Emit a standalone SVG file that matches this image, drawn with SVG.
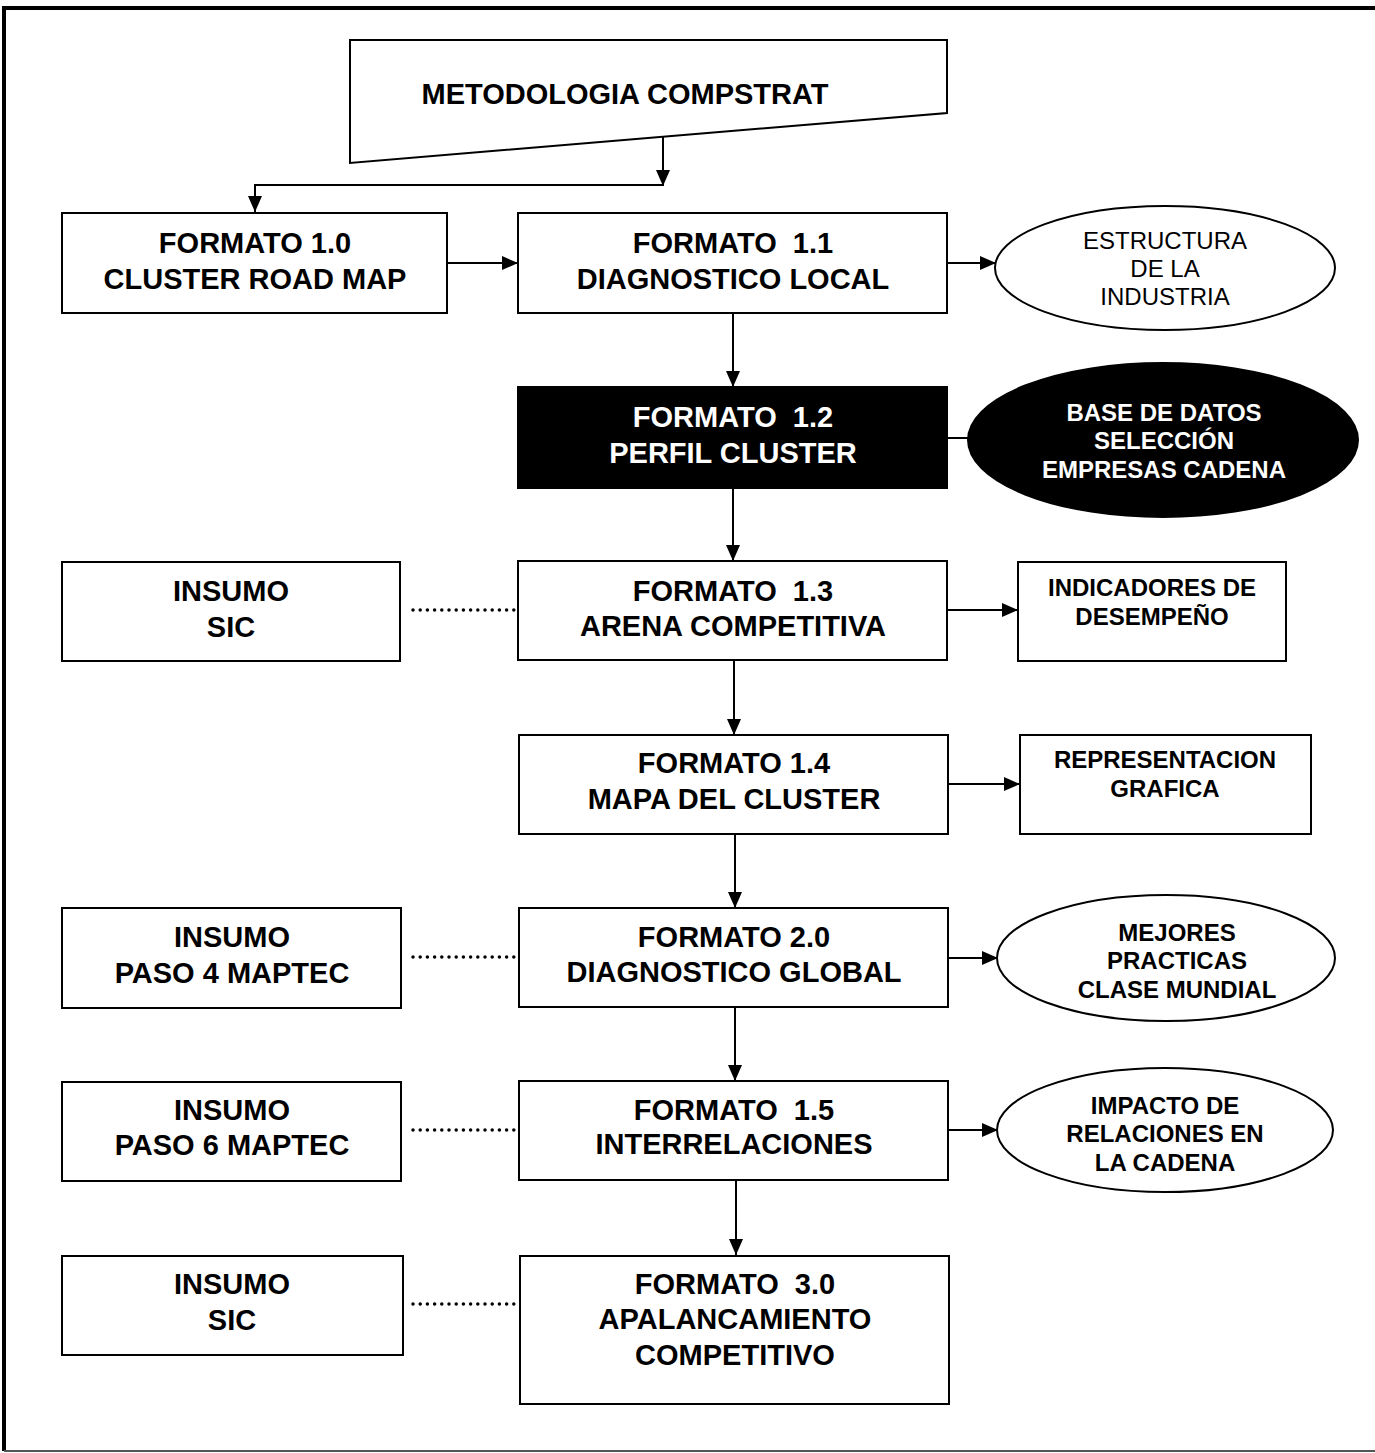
<svg xmlns="http://www.w3.org/2000/svg" width="1375" height="1453" viewBox="0 0 1375 1453">
<style>
.box{fill:#fff;stroke:#000;stroke-width:2}
.dark{fill:#000;stroke:#000;stroke-width:2}
.t{font-family:"Liberation Sans",Arial,sans-serif;font-weight:bold;font-size:29px;text-anchor:middle;fill:#000}
.s{font-family:"Liberation Sans",Arial,sans-serif;font-weight:bold;font-size:24px;text-anchor:middle;fill:#000}
.r{font-family:"Liberation Sans",Arial,sans-serif;font-weight:normal;font-size:24px;text-anchor:middle;fill:#000}
.w{fill:#fff}
.c{fill:none;stroke:#000;stroke-width:2}
.dot{fill:none;stroke:#000;stroke-width:3.5;stroke-linecap:round;stroke-dasharray:0 7.2}
</style>
<defs>
<marker id="ah" markerWidth="16" markerHeight="14" refX="16" refY="7" orient="auto" markerUnits="userSpaceOnUse">
<path d="M0,0 L16,7 L0,14 Z" fill="#000"/>
</marker>
</defs>
<rect width="1375" height="1453" fill="#fff"/>
<g id="frame">
<line x1="4" y1="8" x2="1375" y2="8" stroke="#000" stroke-width="4"/>
<line x1="4" y1="6" x2="4" y2="1451" stroke="#000" stroke-width="4"/>
<line x1="4" y1="1451" x2="1375" y2="1451" stroke="#555" stroke-width="2"/>
</g>

<g id="connectors">
<polyline class="c" points="663,124 663,186" marker-end="url(#ah)"/>
<polyline class="c" points="663,185 255,185 255,212" marker-end="url(#ah)"/>
<line class="c" x1="447" y1="263" x2="518" y2="263" marker-end="url(#ah)"/>
<line class="c" x1="947" y1="263" x2="996" y2="263" marker-end="url(#ah)"/>
<line class="c" x1="733" y1="313" x2="733" y2="387" marker-end="url(#ah)"/>
<line class="c" x1="947" y1="438" x2="972" y2="438"/>
<line class="c" x1="733" y1="488" x2="733" y2="561" marker-end="url(#ah)"/>
<line class="dot" x1="413" y1="610" x2="518" y2="610"/>
<line class="c" x1="947" y1="610" x2="1018" y2="610" marker-end="url(#ah)"/>
<line class="c" x1="734" y1="660" x2="734" y2="735" marker-end="url(#ah)"/>
<line class="c" x1="948" y1="784" x2="1020" y2="784" marker-end="url(#ah)"/>
<line class="c" x1="735" y1="834" x2="735" y2="908" marker-end="url(#ah)"/>
<line class="dot" x1="413" y1="957" x2="519" y2="957"/>
<line class="c" x1="948" y1="958" x2="998" y2="958" marker-end="url(#ah)"/>
<line class="c" x1="735" y1="1007" x2="735" y2="1081" marker-end="url(#ah)"/>
<line class="dot" x1="413" y1="1130" x2="519" y2="1130"/>
<line class="c" x1="948" y1="1130" x2="998" y2="1130" marker-end="url(#ah)"/>
<line class="c" x1="736" y1="1180" x2="736" y2="1255" marker-end="url(#ah)"/>
<line class="dot" x1="413" y1="1304" x2="520" y2="1304"/>
</g>

<g id="n-metodologia">
<path class="box" d="M350,40 L947,40 L947,113 L350,163 Z"/>
<text class="t" x="625" y="104">METODOLOGIA COMPSTRAT</text>
</g>

<g id="n-f10">
<rect class="box" x="62" y="213" width="385" height="100"/>
<text class="t" x="255" y="253">FORMATO 1.0</text>
<text class="t" x="255" y="289">CLUSTER ROAD MAP</text>
</g>

<g id="n-f11">
<rect class="box" x="518" y="213" width="429" height="100"/>
<text class="t" x="733" y="253" xml:space="preserve">FORMATO  1.1</text>
<text class="t" x="733" y="289">DIAGNOSTICO LOCAL</text>
</g>

<g id="n-estructura">
<ellipse class="box" cx="1165" cy="268" rx="170" ry="62"/>
<text class="r" x="1165" y="249">ESTRUCTURA</text>
<text class="r" x="1165" y="277">DE LA</text>
<text class="r" x="1165" y="305">INDUSTRIA</text>
</g>

<g id="n-f12">
<rect class="dark" x="518" y="387" width="429" height="101"/>
<text class="t w" x="733" y="427" xml:space="preserve">FORMATO  1.2</text>
<text class="t w" x="733" y="463">PERFIL CLUSTER</text>
</g>

<g id="n-basedatos">
<ellipse class="dark" cx="1163" cy="440" rx="195" ry="77"/>
<text class="s w" x="1164" y="421">BASE DE DATOS</text>
<text class="s w" x="1164" y="449">SELECCIÓN</text>
<text class="s w" x="1164" y="478">EMPRESAS CADENA</text>
</g>

<g id="n-insumo-sic1">
<rect class="box" x="62" y="562" width="338" height="99"/>
<text class="t" x="231" y="601">INSUMO</text>
<text class="t" x="231" y="637">SIC</text>
</g>

<g id="n-f13">
<rect class="box" x="518" y="561" width="429" height="99"/>
<text class="t" x="733" y="601" xml:space="preserve">FORMATO  1.3</text>
<text class="t" x="733" y="636">ARENA COMPETITIVA</text>
</g>

<g id="n-indicadores">
<rect class="box" x="1018" y="562" width="268" height="99"/>
<text class="s" x="1152" y="596">INDICADORES DE</text>
<text class="s" x="1152" y="625">DESEMPEÑO</text>
</g>

<g id="n-f14">
<rect class="box" x="519" y="735" width="429" height="99"/>
<text class="t" x="734" y="773">FORMATO 1.4</text>
<text class="t" x="734" y="809">MAPA DEL CLUSTER</text>
</g>

<g id="n-representacion">
<rect class="box" x="1020" y="735" width="291" height="99"/>
<text class="s" x="1165" y="768">REPRESENTACION</text>
<text class="s" x="1165" y="797">GRAFICA</text>
</g>

<g id="n-insumo-paso4">
<rect class="box" x="62" y="908" width="339" height="100"/>
<text class="t" x="232" y="947">INSUMO</text>
<text class="t" x="232" y="983">PASO 4 MAPTEC</text>
</g>

<g id="n-f20">
<rect class="box" x="519" y="908" width="429" height="99"/>
<text class="t" x="734" y="947">FORMATO 2.0</text>
<text class="t" x="734" y="982">DIAGNOSTICO GLOBAL</text>
</g>

<g id="n-mejores">
<ellipse class="box" cx="1166" cy="958" rx="169" ry="63"/>
<text class="s" x="1177" y="941">MEJORES</text>
<text class="s" x="1177" y="969">PRACTICAS</text>
<text class="s" x="1177" y="998">CLASE MUNDIAL</text>
</g>

<g id="n-insumo-paso6">
<rect class="box" x="62" y="1082" width="339" height="99"/>
<text class="t" x="232" y="1120">INSUMO</text>
<text class="t" x="232" y="1155">PASO 6 MAPTEC</text>
</g>

<g id="n-f15">
<rect class="box" x="519" y="1081" width="429" height="99"/>
<text class="t" x="734" y="1120" xml:space="preserve">FORMATO  1.5</text>
<text class="t" x="734" y="1154">INTERRELACIONES</text>
</g>

<g id="n-impacto">
<ellipse class="box" cx="1165" cy="1130" rx="168" ry="62"/>
<text class="s" x="1165" y="1114">IMPACTO DE</text>
<text class="s" x="1165" y="1142">RELACIONES EN</text>
<text class="s" x="1165" y="1171">LA CADENA</text>
</g>

<g id="n-insumo-sic2">
<rect class="box" x="62" y="1256" width="341" height="99"/>
<text class="t" x="232" y="1294">INSUMO</text>
<text class="t" x="232" y="1330">SIC</text>
</g>

<g id="n-f30">
<rect class="box" x="520" y="1256" width="429" height="148"/>
<text class="t" x="735" y="1294" xml:space="preserve">FORMATO  3.0</text>
<text class="t" x="735" y="1329">APALANCAMIENTO</text>
<text class="t" x="735" y="1365">COMPETITIVO</text>
</g>
</svg>
